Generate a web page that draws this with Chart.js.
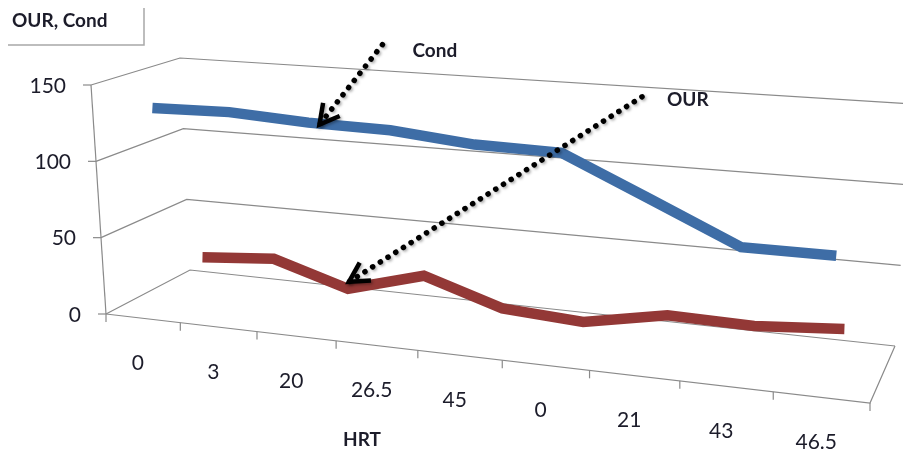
<!DOCTYPE html>
<html><head><meta charset="utf-8">
<script src="https://cdn.jsdelivr.net/npm/chart.js@4/dist/chart.umd.min.js"></script>
<style>html,body{margin:0;padding:0;background:#fff;overflow:hidden}#wrap{width:903px;height:454px;position:relative}</style>
</head><body><div id="wrap"><canvas id="c" width="903" height="454"></canvas></div>
<script>
// ---- data ----
const categories = ['0','3','20','26.5','45','0','21','43','46.5'];
const condValues = [132,133,130,129,124,123,99,75,75];
const ourValues  = [19,23,8,22,6,3,13,12,16];
const seriesNames = ['Cond','OUR'];
const yMin = 0, yMax = 150, yStep = 50;
const yTitle = 'OUR, Cond';
const xTitle = 'HRT';

// ---- 3D frame geometry (screen corners of the box: front/back planes, bottom/top) ----
const BOX = {
  front: {l0:[106,314], r0:[870,403], l1:[91,85],  r1:[888,141]},
  back:  {l0:[190,270], r0:[895,346], l1:[180,58], r1:[912,104]}
};
const PERSP = 1.16;            // horizontal perspective foreshortening
const SERIES_DEPTH = [0.25, 0.75];
const COLORS = ['#3e6da6', '#933836'];
const GRID = '#8a8a8a';
const TEXT = '#1c1c2a';
const FONT = 'Lato, "Open Sans", sans-serif';

const callouts = [
  {text:'Cond', series:0, index:2, tip:[11,2], tail:[74,-78], label:[104,-72]},
  {text:'OUR',  series:1, index:2, tip:[1,-7], tail:[294,-192], label:[319,-189]}
];

function lerp(a,b,t){return [a[0]+(b[0]-a[0])*t, a[1]+(b[1]-a[1])*t];}
function project(u,v,d){
  const t = u/(u+PERSP*(1-u));
  const f = lerp(lerp(BOX.front.l0,BOX.front.r0,t), lerp(BOX.front.l1,BOX.front.r1,t), v);
  const b = lerp(lerp(BOX.back.l0,BOX.back.r0,t),  lerp(BOX.back.l1,BOX.back.r1,t), v);
  return lerp(f,b,d);
}
function uOf(chart,px){const xs=chart.scales.x;return (px-xs.left)/(xs.right-xs.left);}
function vOf(chart,py){const ys=chart.scales.y;return (ys.bottom-py)/(ys.bottom-ys.top);}
function line(ctx,pts){ctx.beginPath();ctx.moveTo(pts[0][0],pts[0][1]);for(let i=1;i<pts.length;i++)ctx.lineTo(pts[i][0],pts[i][1]);ctx.stroke();}

const perspectivePlugin = {
  id:'perspective',
  afterDatasetsUpdate(chart){
    chart.data.datasets.forEach((ds,i)=>{
      const meta = chart.getDatasetMeta(i);
      meta.data.forEach(pt=>{
        const p = project(uOf(chart,pt.x), vOf(chart,pt.y), SERIES_DEPTH[i]);
        pt.x = p[0]; pt.y = p[1];
      });
    });
  },
  beforeDatasetsDraw(chart){
    const ctx = chart.ctx, xs = chart.scales.x, ys = chart.scales.y;
    ctx.save();
    ctx.strokeStyle = GRID; ctx.lineWidth = 1.2; ctx.lineJoin='miter';
    ys.ticks.forEach(tk=>{
      const v = vOf(chart, ys.getPixelForValue(tk.value));
      line(ctx,[project(0,v,0),project(0,v,1),project(1,v,1)]);
      const f = project(0,v,0);
      line(ctx,[[f[0]-8,f[1]],f]);
    });
    line(ctx,[project(0,0,0),project(0,1,0)]);
    line(ctx,[project(0,0,0),project(1,0,0),project(1,0,1)]);
    for(let i=0;i<=categories.length;i++){
      const u = uOf(chart, xs.getPixelForValue(i-0.5));
      const p = project(u,0,0);
      line(ctx,[p,[p[0],p[1]+8]]);
    }
    ctx.restore();
  },
  afterDatasetsDraw(chart){
    const ctx = chart.ctx, xs = chart.scales.x, ys = chart.scales.y;
    ctx.save();
    ctx.fillStyle = TEXT;
    ctx.font = '21px '+FONT; ctx.textAlign='right'; ctx.textBaseline='middle';
    ys.ticks.forEach(tk=>{
      const v = vOf(chart, ys.getPixelForValue(tk.value));
      const f = project(0,v,0);
      ctx.fillText(tk.label, f[0]-25, f[1]+1);
    });
    ctx.textAlign='center';
    categories.forEach((c,i)=>{
      const u = uOf(chart, xs.getPixelForValue(i));
      const p = project(u,0,0);
      ctx.fillText(c, p[0]-5, p[1]+45);
    });
    ctx.font = 'bold 19px '+FONT; ctx.textAlign='center';
    ctx.fillText(xTitle, 362, 440);
    ctx.textAlign='left';
    ctx.fillText(yTitle, 12, 21);
    ctx.strokeStyle='#a8a8a8'; ctx.lineWidth=1.5;
    line(ctx,[[8,45],[144,45],[144,8]]);
    callouts.forEach(c=>{
      const pt = chart.getDatasetMeta(c.series).data[c.index];
      const tip = [pt.x+c.tip[0], pt.y+c.tip[1]];
      const tail = [pt.x+c.tail[0], pt.y+c.tail[1]];
      ctx.save();
      ctx.shadowColor='rgba(0,0,0,0.35)'; ctx.shadowBlur=3; ctx.shadowOffsetX=1.5; ctx.shadowOffsetY=1.5;
      ctx.strokeStyle='#000'; ctx.lineCap='round'; ctx.lineWidth=5.5;
      ctx.setLineDash([0.1,9]);
      line(ctx,[tail,tip]);
      ctx.setLineDash([]);
      const ang = Math.atan2(tail[1]-tip[1], tail[0]-tip[0]);
      const L=22, a=0.5;
      ctx.lineWidth=4.5; ctx.lineJoin='miter'; ctx.lineCap='butt';
      line(ctx,[[tip[0]+L*Math.cos(ang-a), tip[1]+L*Math.sin(ang-a)], tip, [tip[0]+L*Math.cos(ang+a), tip[1]+L*Math.sin(ang+a)]]);
      ctx.restore();
      ctx.font='bold 19px '+FONT; ctx.textAlign='left'; ctx.textBaseline='middle';
      ctx.fillText(c.text, pt.x+c.label[0], pt.y+c.label[1]);
    });
    ctx.restore();
  }
};

new Chart(document.getElementById('c'), {
  type:'line',
  data:{
    labels: categories,
    datasets:[
      {label:seriesNames[0], data:condValues, borderColor:COLORS[0], backgroundColor:COLORS[0]},
      {label:seriesNames[1], data:ourValues,  borderColor:COLORS[1], backgroundColor:COLORS[1]}
    ]
  },
  options:{
    responsive:false, animation:false, devicePixelRatio:1,
    layout:{padding:0},
    elements:{
      line:{borderWidth:10.5, tension:0, borderJoinStyle:'miter', borderCapStyle:'butt', fill:false},
      point:{radius:0, hoverRadius:0}
    },
    datasets:{line:{clip:false}},
    plugins:{legend:{display:false}, title:{display:false}, tooltip:{enabled:false}},
    events:[],
    scales:{
      x:{type:'category', offset:true, display:false},
      y:{type:'linear', min:yMin, max:yMax, ticks:{stepSize:yStep}, display:false}
    }
  },
  plugins:[perspectivePlugin]
});
</script></body></html>
